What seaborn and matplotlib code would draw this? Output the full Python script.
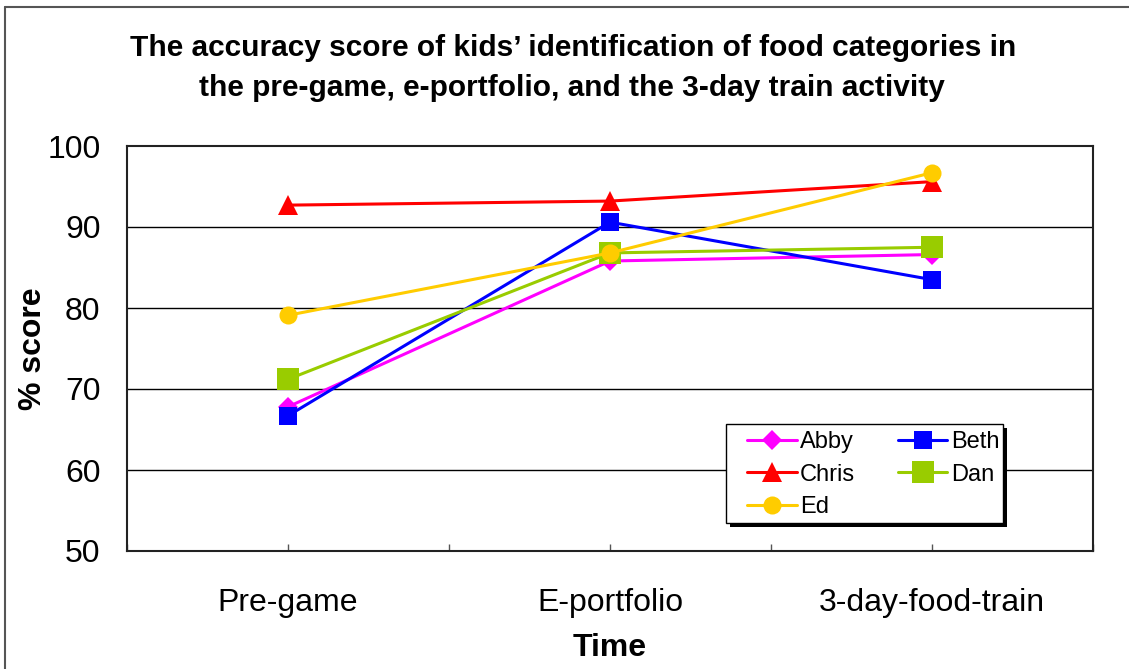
import matplotlib
matplotlib.use("Agg")
import matplotlib.pyplot as plt
from matplotlib.lines import Line2D
from matplotlib.patches import Rectangle
import seaborn as sns
import pandas as pd

categories = ["Pre-game", "E-portfolio", "3-day-food-train"]
abby = [67.8, 85.8, 86.6]
beth = [66.7, 90.6, 83.5]
chris = [92.7, 93.2, 95.6]
dan = [71.2, 86.8, 87.5]
ed = [79.1, 86.8, 96.7]

names = ["Abby", "Beth", "Chris", "Dan", "Ed"]
values = [abby, beth, chris, dan, ed]
colors = ["#FF00FF", "#0000FF", "#FF0000", "#99CC00", "#FFCC00"]
markers = ["D", "s", "^", "s", "o"]
msizes = [10, 13, 14.5, 16.5, 13]

sns.set_theme(style="white")
plt.rcParams["font.family"] = ["Liberation Sans", "DejaVu Sans"]

W, H = 1129, 669
fig = plt.figure(figsize=(W/100, H/100), dpi=100)
ax = fig.add_axes([127/W, 1-551/H, (1093-127)/W, (551-146)/H])

for name, vals, c, m, ms in zip(names, values, colors, markers, msizes):
    df = pd.DataFrame({"Time": categories, "score": vals})
    sns.lineplot(data=df, x="Time", y="score", ax=ax, color=c, marker=m,
                 markersize=ms, markeredgewidth=0, linewidth=2.2, label=name,
                 sort=False)

ax.set_xlim(-0.5, 2.5)
ax.set_ylim(50, 100)
ax.set_yticks([50, 60, 70, 80, 90, 100])
ax.set_xticks([0, 1, 2])
ax.set_xticklabels(categories)
ax.set_xticks([-0.5, 0.5, 1.5, 2.5], minor=True)
ax.grid(False)
for yv in [60, 70, 80, 90]:
    ax.axhline(yv, color="black", linewidth=1, zorder=0)
ax.set_axisbelow(True)

for s in ax.spines.values():
    s.set_visible(True)
    s.set_color("#222222")
    s.set_linewidth(1.5)

ax.tick_params(axis="y", which="both", length=0, labelsize=23, pad=19, labelcolor="black")
ax.tick_params(axis="x", which="major", direction="in", length=5, width=1,
               color="#555555", labelsize=23, pad=27, labelcolor="black", bottom=True)
ax.tick_params(axis="x", which="minor", direction="in", length=5, width=1,
               color="#555555", bottom=True)

ax.set_xlabel("Time", fontsize=23, fontweight="bold", color="black")
ax.set_ylabel("% score", fontsize=23, fontweight="bold", color="black")
ax.xaxis.set_label_coords((610-127)/966, -(633-551)/405)
ax.yaxis.set_label_coords(-(127-48)/966, 0.5)

fig.text(573/W, 1-48/H,
         "The accuracy score of kids\u2019 identification of food categories in",
         ha="center", va="center", fontsize=21.5, fontweight="bold", color="black")
fig.text(572/W, 1-88/H,
         "the pre-game, e-portfolio, and the 3-day train activity",
         ha="center", va="center", fontsize=21.5, fontweight="bold", color="black")

# legend box with solid shadow (Excel style)
lx0, ly0, lx1, ly1 = 726, 424, 1003, 523
ax.add_patch(Rectangle(((lx0+4)/W, 1-(ly1+4)/H), (lx1-lx0)/W, (ly1-ly0)/H,
                       transform=fig.transFigure, facecolor="black",
                       edgecolor="none", zorder=4.8, clip_on=False))
ax.add_patch(Rectangle((lx0/W, 1-ly1/H), (lx1-lx0)/W, (ly1-ly0)/H,
                       transform=fig.transFigure, facecolor="white",
                       edgecolor="black", linewidth=1, zorder=4.9, clip_on=False))

handles, labels = ax.get_legend_handles_labels()
order = [0, 2, 4, 1, 3]
leg = ax.legend([handles[i] for i in order], [labels[i] for i in order],
                loc="upper left", bbox_to_anchor=((747-127)/966, (551-431)/405),
                ncol=2, fontsize=17, frameon=False,
                handlelength=2.1, handletextpad=0.15, columnspacing=1.8,
                labelspacing=0.45, borderpad=0, borderaxespad=0)
leg.set_zorder(5)
for t in leg.get_texts():
    t.set_color("black")

# outer chart frame
fig.add_artist(Line2D([5/W, 5/W], [-0.1, 1-7/H], transform=fig.transFigure,
                      color="#555555", linewidth=1.5))
fig.add_artist(Line2D([5/W, 1.1], [1-7/H, 1-7/H], transform=fig.transFigure,
                      color="#555555", linewidth=1.5))

fig.savefig("out.png", dpi=100)
